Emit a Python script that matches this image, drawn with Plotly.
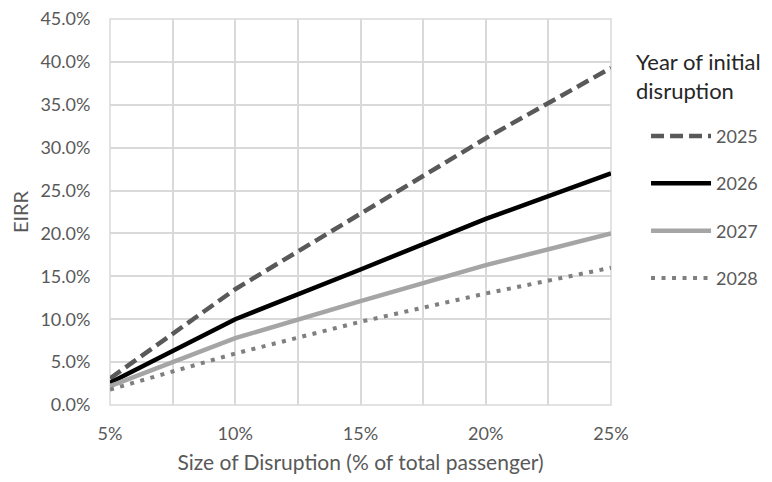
import plotly.graph_objects as go

disruption_size = [0.05, 0.10, 0.15, 0.20, 0.25]
eirr_2025 = [0.031, 0.135, 0.223, 0.311, 0.393]
eirr_2026 = [0.026, 0.100, 0.158, 0.217, 0.270]
eirr_2027 = [0.022, 0.078, 0.121, 0.163, 0.200]
eirr_2028 = [0.018, 0.060, 0.097, 0.130, 0.160]
series_names = ["2025", "2026", "2027", "2028"]
legend_title = "Year of initial<br>disruption"

FONT = "Lato, 'Noto Sans', sans-serif"
styles = [
    dict(color="#595959", width=4.5, dash="13px,6px"),
    dict(color="#000000", width=4.5, dash="solid"),
    dict(color="#A5A5A5", width=4.5, dash="solid"),
    dict(color="#7F7F7F", width=4, dash="4px,6.5px"),
]

fig = go.Figure()
for name, vals, st in zip(series_names, [eirr_2025, eirr_2026, eirr_2027, eirr_2028], styles):
    fig.add_trace(go.Scatter(
        x=disruption_size, y=vals, mode="lines", name=name,
        legendgroup=name, line=dict(color=st["color"], width=st["width"], dash=st["dash"]),
    ))

# page body has an 8px margin, so the figure is 756x466 and offsets are reduced by 8
fig.update_layout(
    width=756, height=466,
    margin=dict(l=102, r=153, t=11, b=69, autoexpand=False),
    paper_bgcolor="white", plot_bgcolor="white",
    font=dict(family=FONT, size=18, color="#595959"),
    legend=dict(
        x=1.034, xanchor="left", y=0.7443, yanchor="top",
        font=dict(size=18, color="#595959"),
        tracegroupgap=21, itemwidth=60, indentation=18,
        bgcolor="rgba(0,0,0,0)",
    ),
    xaxis=dict(
        range=[0.05, 0.25], dtick=0.05, tickformat=".0%", automargin=False,
        showgrid=True, gridcolor="#D9D9D9", gridwidth=1.5,
        minor=dict(dtick=0.025, showgrid=True, gridcolor="#D9D9D9", gridwidth=1.5),
        ticks="outside", ticklen=12, tickcolor="rgba(0,0,0,0)",
        ticklabeloverflow="allow",
        showline=False, zeroline=False,
        title=dict(text="Size of Disruption (% of total passenger)", standoff=14,
                   font=dict(size=21, color="#595959")),
    ),
    yaxis=dict(
        range=[0, 0.45], dtick=0.05, tickformat=".1%", automargin=False,
        showgrid=True, gridcolor="#D9D9D9", gridwidth=1.5,
        ticks="outside", ticklen=15, tickcolor="rgba(0,0,0,0)",
        ticklabeloverflow="allow",
        showline=False, zeroline=False,
        title=dict(text="EIRR", standoff=10, font=dict(size=20, color="#595959")),
    ),
    annotations=[dict(
        text=legend_title, xref="paper", yref="paper", x=1.046, y=0.9308,
        xanchor="left", yanchor="top", align="left", showarrow=False,
        font=dict(size=22, color="#262626"),
    )],
)
fig.add_shape(type="rect", xref="paper", yref="paper", x0=0, x1=1, y0=0, y1=1,
              line=dict(color="#D9D9D9", width=1.5), layer="below")

fig.write_html("out.html")
